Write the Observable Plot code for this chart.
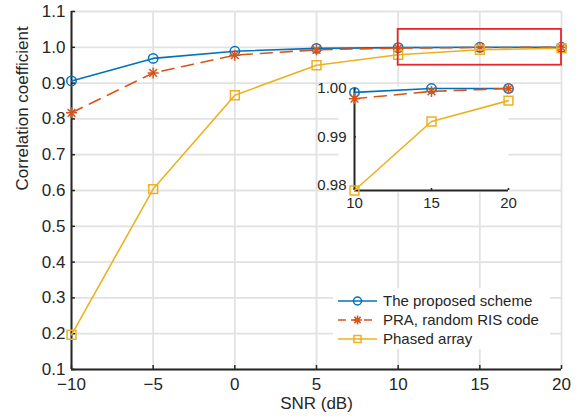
<!DOCTYPE html>
<html><head><meta charset="utf-8">
<script src="https://cdn.jsdelivr.net/npm/d3@7"></script>
<script src="https://cdn.jsdelivr.net/npm/@observablehq/plot@0.6"></script>
<style>
body{margin:0;background:#fff;}
#wrap{position:relative;width:581px;height:418px;overflow:hidden;background:#fff;}
#wrap > svg{position:absolute;left:0;top:0;overflow:visible;}
</style></head><body><div id="wrap"></div>
<script>
// ---- data ----
const snr = [-10, -5, 0, 5, 10, 15, 20];
const proposed = [0.906, 0.969, 0.989, 0.997, 0.9992, 1.0, 1.0];
const pra = [0.817, 0.9285, 0.978, 0.993, 0.9979, 0.9994, 1.0];
const phased = [0.197, 0.604, 0.866, 0.950, 0.979, 0.9932, 0.9975];
const seriesNames = ["The proposed scheme", "PRA, random RIS code", "Phased array"];
const seriesColors = ["#0072BD", "#D95319", "#EDB120"];
const xTicks = [-10, -5, 0, 5, 10, 15, 20];
const yTicks = [0.1, 0.2, 0.3, 0.4, 0.5, 0.6, 0.7, 0.8, 0.9, 1.0, 1.1];
const insetXTicks = [10, 15, 20];
const insetYTicks = [0.98, 0.99, 1.00];
const insetDomainY = [0.979, 1.0];
const zoomBox = [{x1: 10, x2: 20, y1: 0.95, y2: 1.05}];
const xLabel = "SNR (dB)";
const yLabel = "Correlation coefficient";

const values = [proposed, pra, phased];
const rows = seriesNames.flatMap((name, i) => snr.map((x, j) => ({series: name, idx: i, x, y: values[i][j]})));

const asterisk = {draw(ctx, size) {
  const r = Math.sqrt(size / Math.PI) * 1.1, d = r * Math.SQRT1_2;
  ctx.moveTo(-r, 0); ctx.lineTo(r, 0);
  ctx.moveTo(0, -r); ctx.lineTo(0, r);
  ctx.moveTo(-d, -d); ctx.lineTo(d, d);
  ctx.moveTo(-d, d); ctx.lineTo(d, -d);
}};
const symbols = ["circle", asterisk, "square"];
const radii = [4.7, 5, 5];
const dashes = [undefined, "12,8", undefined];
const d3Symbols = [d3.symbolCircle, asterisk, d3.symbolSquare];

function seriesMarks(data) {
  return seriesNames.flatMap((name, i) => {
    const d = data.filter(r => r.idx === i);
    return [
      Plot.line(d, {x: "x", y: "y", stroke: seriesColors[i], strokeWidth: 1.6, strokeDasharray: dashes[i]}),
      Plot.dot(d, {x: "x", y: "y", stroke: seriesColors[i], fill: "none", strokeWidth: 1.5, r: radii[i], symbol: symbols[i]})
    ];
  });
}

const font = "'Liberation Sans', Arial, Helvetica, sans-serif";
const grid = {stroke: "#e2e2e2", strokeOpacity: 1, strokeWidth: 1.8};
const axisColor = "#262626";

const main = Plot.plot({
  width: 581, height: 418,
  marginLeft: 71, marginRight: 20, marginTop: 11, marginBottom: 49,
  x: {domain: [-10, 20]},
  y: {domain: [0.1, 1.1]},
  style: {fontFamily: font, fontSize: "17px", color: axisColor, background: "transparent", overflow: "visible"},
  marks: [
    Plot.gridX(xTicks, grid),
    Plot.gridY(yTicks, grid),
    Plot.ruleX([-10], {stroke: axisColor, strokeWidth: 2}),
    Plot.ruleY([0.1], {stroke: axisColor, strokeWidth: 2}),
    Plot.axisX(xTicks, {tickSize: -4, tickPadding: 12, label: null, tickFormat: d3.format("d"), strokeWidth: 1.5}),
    Plot.axisY(yTicks, {tickSize: -4, tickPadding: 10, label: null, tickFormat: d3.format(".1f"), strokeWidth: 1.5}),
    Plot.text([xLabel], {frameAnchor: "bottom", dy: 39, fontSize: 17}),
    Plot.text([yLabel], {frameAnchor: "left", dx: -49, rotate: -90, fontSize: 17}),
    ...seriesMarks(rows),
    Plot.rect(zoomBox, {x1: "x1", x2: "x2", y1: "y1", y2: "y2", fill: "none", stroke: "#E8262B", strokeWidth: 1.8})
  ]
});

const insetRows = rows.filter(r => r.x >= insetXTicks[0]);
const inset = Plot.plot({
  width: 224, height: 144,
  marginLeft: 50, marginRight: 20, marginTop: 12, marginBottom: 30,
  x: {domain: [10, 20]},
  y: {domain: insetDomainY},
  style: {fontFamily: font, fontSize: "15px", color: axisColor, background: "transparent", overflow: "visible"},
  marks: [
    Plot.frame({fill: "white", stroke: "none", insetLeft: -16, insetTop: -2, insetBottom: -2}),
    Plot.ruleX([10], {stroke: axisColor, strokeWidth: 2}),
    Plot.ruleY([insetDomainY[0]], {stroke: axisColor, strokeWidth: 2}),
    Plot.axisX(insetXTicks, {tickSize: -2, tickPadding: 9, label: null, tickFormat: d3.format("d"), strokeWidth: 1.5}),
    Plot.axisY(insetYTicks, {tickSize: -2, tickPadding: 10, label: null, tickFormat: d3.format(".2f"), strokeWidth: 1.5}),
    ...seriesMarks(insetRows)
  ]
});
inset.style.left = (354 - 50) + "px";
inset.style.top = (88 - 12) + "px";

// legend
const leg = d3.create("svg").attr("width", 217).attr("height", 61)
  .style("left", "333px").style("top", "288px").style("background", "white");
seriesNames.forEach((name, i) => {
  const g = leg.append("g").attr("transform", `translate(0,${13 + i * 19})`);
  g.append("line").attr("x1", 5).attr("x2", 44).attr("stroke", seriesColors[i])
    .attr("stroke-width", 1.6).attr("stroke-dasharray", dashes[i] ? "8,5" : null);
  g.append("path").attr("transform", "translate(24.5,0)")
    .attr("d", d3.symbol(d3Symbols[i], Math.PI * 16)())
    .attr("fill", "none").attr("stroke", seriesColors[i]).attr("stroke-width", 1.5);
  g.append("text").attr("x", 50).attr("dy", "0.35em").attr("font-family", font)
    .attr("font-size", 15).attr("fill", axisColor).text(name);
});

const wrap = document.getElementById("wrap");
wrap.append(main, inset, leg.node());
</script></body></html>
